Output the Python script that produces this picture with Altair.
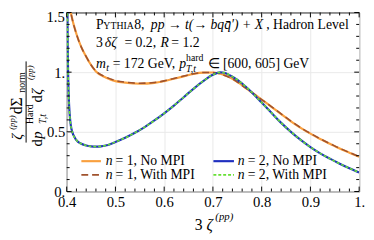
import altair as alt
import pandas as pd

# ---------------- data ----------------
zeta_n1 = [0.400, 0.405, 0.41, 0.42, 0.43, 0.44, 0.45, 0.46, 0.48, 0.50, 0.52, 0.55,
           0.58, 0.60, 0.62, 0.64, 0.66, 0.68, 0.70, 0.72, 0.74, 0.76, 0.78, 0.80,
           0.82, 0.84, 0.86, 0.88, 0.90, 0.92, 0.94, 0.96, 0.98, 1.00]
n1_no_mpi = [1.75, 1.58, 1.47, 1.32, 1.21, 1.13, 1.06, 1.005, 0.955, 0.925, 0.912, 0.903,
             0.91, 0.925, 0.945, 0.965, 0.985, 0.996, 0.997, 0.98, 0.945, 0.89, 0.83, 0.77,
             0.71, 0.648, 0.588, 0.533, 0.485, 0.44, 0.40, 0.36, 0.325, 0.29]
n1_with_mpi = [1.75, 1.58, 1.47, 1.32, 1.21, 1.13, 1.06, 1.008, 0.96, 0.93, 0.916, 0.907,
               0.913, 0.927, 0.947, 0.967, 0.986, 0.997, 0.997, 0.978, 0.943, 0.888, 0.829, 0.77,
               0.711, 0.65, 0.59, 0.535, 0.487, 0.442, 0.402, 0.362, 0.327, 0.292]

zeta_n2 = [0.400, 0.402, 0.405, 0.41, 0.42, 0.43, 0.44, 0.45, 0.46, 0.47, 0.48, 0.50,
           0.52, 0.54, 0.56, 0.58, 0.60, 0.62, 0.64, 0.66, 0.68, 0.70, 0.715, 0.72,
           0.74, 0.76, 0.78, 0.80, 0.82, 0.84, 0.86, 0.88, 0.90, 0.92, 0.94, 0.96, 0.98, 1.00]
n2_no_mpi = [2.6, 1.25, 0.72, 0.52, 0.43, 0.40, 0.385, 0.378, 0.376, 0.378, 0.385, 0.415,
             0.45, 0.492, 0.54, 0.595, 0.655, 0.72, 0.79, 0.86, 0.925, 0.978, 0.998, 0.997,
             0.962, 0.905, 0.83, 0.745, 0.66, 0.575, 0.50, 0.432, 0.372, 0.32, 0.275, 0.233, 0.195, 0.16]
n2_with_mpi = [2.6, 1.25, 0.72, 0.52, 0.43, 0.40, 0.385, 0.378, 0.376, 0.378, 0.385, 0.415,
               0.45, 0.492, 0.54, 0.595, 0.655, 0.72, 0.79, 0.86, 0.925, 0.978, 0.998, 0.997,
               0.962, 0.905, 0.83, 0.745, 0.66, 0.575, 0.50, 0.432, 0.372, 0.32, 0.275, 0.233, 0.195, 0.16]

series_names = ["n = 1, No MPI", "n = 1, With MPI", "n = 2, No MPI", "n = 2, With MPI"]

x_major = [0.4, 0.5, 0.6, 0.7, 0.8, 0.9, 1.0]
x_minor = [0.42, 0.44, 0.46, 0.48, 0.52, 0.54, 0.56, 0.58, 0.62, 0.64, 0.66, 0.68,
           0.72, 0.74, 0.76, 0.78, 0.82, 0.84, 0.86, 0.88, 0.92, 0.94, 0.96, 0.98]
y_major = [0.0, 0.5, 1.0, 1.5]
y_labelled = [0.0, 0.5, 1.0]
y_top_label = "1.5"
y_minor = [0.1, 0.2, 0.3, 0.4, 0.6, 0.7, 0.8, 0.9, 1.1, 1.2, 1.3, 1.4]

# ---------------- layout / style ----------------
W, H = 299, 183
SERIF = "Liberation Serif"
COLORS = {"n = 1, No MPI": "#f9a03f", "n = 1, With MPI": "#a0522d",
          "n = 2, No MPI": "#1f2fbf", "n = 2, With MPI": "#66e033"}
DASHES = {"n = 1, No MPI": None, "n = 1, With MPI": [7, 4],
          "n = 2, No MPI": None, "n = 2, With MPI": [3, 2]}
WIDTHS = {"n = 1, No MPI": 2.2, "n = 1, With MPI": 1.6,
          "n = 2, No MPI": 2.2, "n = 2, With MPI": 1.6}

rows = []
for name, xs_, ys_ in [(series_names[0], zeta_n1, n1_no_mpi),
                       (series_names[1], zeta_n1, n1_with_mpi),
                       (series_names[2], zeta_n2, n2_no_mpi),
                       (series_names[3], zeta_n2, n2_with_mpi)]:
    rows += [{"x": a, "y": b, "series": name} for a, b in zip(xs_, ys_)]
df = pd.DataFrame(rows)
one = pd.DataFrame({"k": [0]})

xscale = alt.Scale(domain=[0.4, 1.0], nice=False, zero=False)
yscale = alt.Scale(domain=[0.0, 1.5], nice=False, zero=False)

x_axis = alt.Axis(values=x_major, ticks=False, domain=False, grid=True, gridColor="#e8e8e8",
                  title=None, labelFont=SERIF, labelFontSize=15, labelColor="black",
                  labelPadding=3, labelFlush=False, labelOverlap=False,
                  labelExpr="datum.value == 1 ? '1.' : format(datum.value, '.1f')")
y_axis = alt.Axis(values=y_labelled, ticks=False, domain=False, grid=True, gridColor="#e8e8e8",
                  title=None, labelFont=SERIF, labelFontSize=15, labelColor="black",
                  labelPadding=2, labelFlush=False, labelOverlap=False,
                  labelExpr="datum.value == 0 ? '0.' : datum.value == 1 ? '1.' : format(datum.value, '.1f')")


def line(name):
    kw = dict(color=COLORS[name], strokeWidth=WIDTHS[name], clip=True, interpolate="monotone")
    if DASHES[name]:
        kw["strokeDash"] = DASHES[name]
    return alt.Chart(df).transform_filter(alt.datum.series == name).mark_line(**kw).encode(
        x=alt.X("x:Q", scale=xscale, axis=x_axis),
        y=alt.Y("y:Q", scale=yscale, axis=y_axis),
    )


def xticks(vals, length, top):
    y0, y1 = (0, length) if top else (H, H - length)
    return alt.Chart(pd.DataFrame({"x": vals})).mark_rule(color="black", strokeWidth=1).encode(
        x=alt.X("x:Q", scale=xscale, axis=x_axis), y=alt.value(y0), y2=alt.value(y1))


def yticks(vals, length, right):
    x0, x1 = (W, W - length) if right else (0, length)
    return alt.Chart(pd.DataFrame({"y": vals})).mark_rule(color="black", strokeWidth=1).encode(
        y=alt.Y("y:Q", scale=yscale, axis=y_axis), x=alt.value(x0), x2=alt.value(x1))


def txt(s, x, y, size=14, style="normal", angle=0, baseline="alphabetic", align="left"):
    return alt.Chart(one).mark_text(text=s, font=SERIF, fontSize=size, fontStyle=style,
                                    angle=angle, baseline=baseline, align=align,
                                    color="black").encode(x=alt.value(x), y=alt.value(y))


def hrule(x0, x1, y, color, width, dash=None):
    kw = dict(color=color, strokeWidth=width)
    if dash:
        kw["strokeDash"] = dash
    return alt.Chart(one).mark_rule(**kw).encode(x=alt.value(x0), x2=alt.value(x1), y=alt.value(y))


layers = [line(n) for n in series_names]
for top in (False, True):
    layers += [xticks(x_major, 5, top), xticks(x_minor, 3, top)]
for right in (False, True):
    layers += [yticks(y_major, 5, right), yticks(y_minor, 3, right)]

# top y label (kept just inside the canvas)
layers.append(txt(y_top_label, -2, 4.5, 15, baseline="middle", align="right"))

# annotation block
ann = [
    ("P", 30, 17, 14, "normal"), ("YTHIA", 37.5, 17, 10, "normal"), ("8,", 69, 17, 14, "normal"),
    ("pp \u2192 t(\u2192 bqq\u0304\u2032) + X", 86, 17, 14, "italic"),
    (", Hadron Level", 204, 17, 14, "normal"),
    ("3", 30, 35, 14, "normal"), ("\u03b4\u03b6", 39, 35, 14, "italic"),
    ("= 0.2,", 59, 35, 14, "normal"), ("R", 96, 35, 14, "italic"), ("= 1.2", 107, 35, 14, "normal"),
    ("m", 30, 57, 14, "italic"), ("t", 40.5, 60, 10, "italic"),
    ("= 172 GeV,", 47, 57, 14, "normal"), ("p", 115, 57, 14, "italic"),
    ("hard", 122, 50, 10, "normal"), ("T,t", 122, 61, 10, "italic"),
    ("\u2208 [600, 605] GeV", 144, 57, 14, "normal"),
]
for s, x, y, size, style in ann:
    layers.append(txt(s, x, y, size, style))

# legend
leg = [(series_names[0], 15, 35, 152, 40, 50, "= 1, No MPI"),
       (series_names[2], 150, 171, 152, 175, 185, "= 2, No MPI"),
       (series_names[1], 15, 35, 166, 40, 50, "= 1, With MPI"),
       (series_names[3], 150, 171, 166, 175, 185, "= 2, With MPI")]
for name, x0, x1, y, xn, xt, rest in leg:
    layers.append(hrule(x0, x1, y, COLORS[name], WIDTHS[name], DASHES[name]))
    layers.append(txt("n", xn, y, 14, "italic", baseline="middle"))
    layers.append(txt(rest, xt, y, 14, "normal", baseline="middle"))

# x title: 3 zeta^(pp)
layers += [txt("3", 131, 222, 16), txt("\u03b6", 143, 222, 16, "italic"),
           txt("(pp)", 152, 212, 11, "italic")]

# y title: fraction, rotated
layers.append(alt.Chart(one).mark_rule(color="black", strokeWidth=1).encode(
    x=alt.value(-41.5), y=alt.value(50), y2=alt.value(133)))
ytitle = [
    ("\u03b6", -46, 130, 15, "italic"), ("(pp)", -52.5, 120, 9, "italic"),
    ("d\u03a3", -46, 104, 16, "normal"), ("norm", -43, 82, 10, "normal"),
    ("d", -25, 137, 15, "normal"), ("p", -25, 129, 15, "italic"),
    ("Hard", -34, 114, 10, "normal"), ("T,t", -21.5, 114, 10, "italic"),
    ("d", -25, 92, 15, "normal"), ("\u03b6", -25, 84, 15, "italic"),
    ("(pp)", -34, 69, 9, "italic"),
]
for s, x, y, size, style in ytitle:
    layers.append(txt(s, x, y, size, style, angle=270))

chart = alt.layer(*layers).properties(
    width=W, height=H,
    autosize=alt.AutoSizeParams(type="none"),
    padding={"left": 60, "top": 2, "right": 7, "bottom": 47},
).configure_view(stroke="#222", strokeWidth=1)

chart.save("out.html", embed_options={"renderer": "svg", "actions": False})
